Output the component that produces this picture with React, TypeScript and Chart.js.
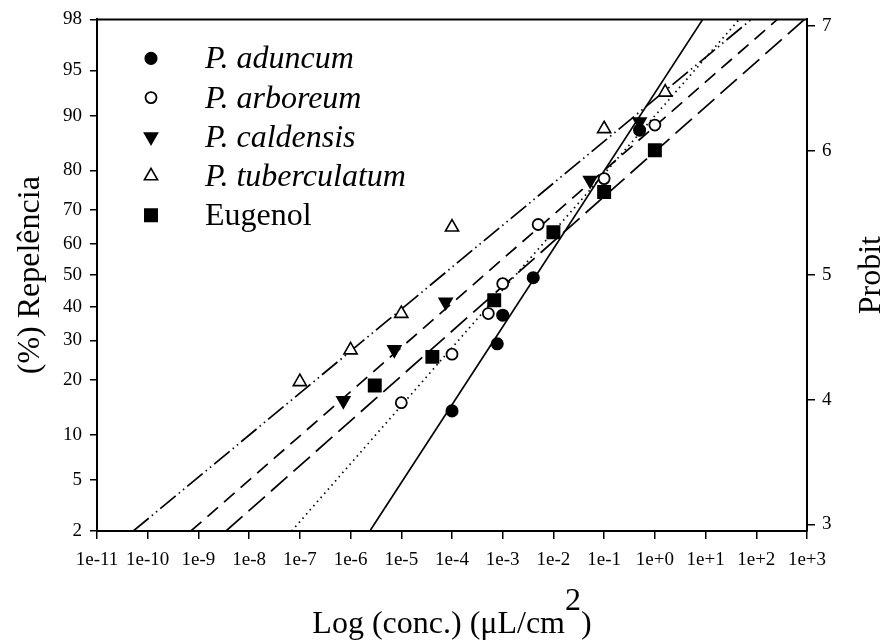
import React, { useEffect, useRef } from 'react';
import { Chart, registerables } from 'chart.js';

Chart.register(...registerables);

// ---------- data ----------
const SERIES_NAMES = ['P. aduncum', 'P. arboreum', 'P. caldensis', 'P. tuberculatum', 'Eugenol'];
const SERIES_ITALIC = [true, true, true, true, false];

const ADUNCUM_CONC = [1e-4, 7.8e-4, 1e-3, 4e-3, 0.5];
const ADUNCUM_PCT = [13.8, 29.1, 37.4, 49.2, 87.8];

const ARBOREUM_CONC = [1e-5, 1e-4, 5.2e-4, 1e-3, 5e-3, 0.1, 1];
const ARBOREUM_PCT = [15.3, 26.3, 37.9, 47.3, 65.8, 78.1, 88.6];

const CALDENSIS_CONC = [7.2e-7, 7.3e-6, 7.5e-5, 0.053, 0.5];
const CALDENSIS_PCT = [15.7, 27.5, 41.5, 77.7, 89.1];

const TUBERCULATUM_CONC = [1e-7, 1e-6, 1e-5, 1e-4, 0.1, 1.6];
const TUBERCULATUM_PCT = [19.6, 27.4, 37.9, 65.0, 88.0, 92.9];

const EUGENOL_CONC = [3e-6, 4.1e-5, 6.8e-4, 1e-2, 0.1, 1];
const EUGENOL_PCT = [18.8, 25.6, 42.0, 63.5, 74.8, 84.2];

// fitted probit lines: end points read where each line meets the frame
const LINE_START_CONC = [2.4e-6, 6.9e-8, 7.1e-10, 5.2e-11, 3.5e-9];
const LINE_START_PCT = [2, 2, 2, 2, 2];
const LINE_END_CONC = [8.8, 46, 260, 80, 890];
const LINE_END_PCT = [98, 98, 98, 98, 98];

const X_TICKS = [1e-11, 1e-10, 1e-9, 1e-8, 1e-7, 1e-6, 1e-5, 1e-4, 1e-3, 1e-2, 1e-1, 1e0, 1e1, 1e2, 1e3];
const X_TICK_LABELS = ['1e-11', '1e-10', '1e-9', '1e-8', '1e-7', '1e-6', '1e-5', '1e-4', '1e-3', '1e-2', '1e-1', '1e+0', '1e+1', '1e+2', '1e+3'];
const PCT_TICKS = [2, 5, 10, 20, 30, 40, 50, 60, 70, 80, 90, 95, 98];
const PROBIT_TICKS = [3, 4, 5, 6, 7];
const Y_RANGE_PCT = [2, 98];

const X_TITLE_MAIN = 'Log (conc.) (\u03bcL/cm';
const X_TITLE_SUP = '2';
const X_TITLE_END = ')';
const Y_TITLE = '(%) Repel\u00eancia';
const Y2_TITLE = 'Probit';

// ---------- probit transform (inverse normal, Acklam) ----------
function normInv(p: number): number {
  const a = [-3.969683028665376e1, 2.209460984245205e2, -2.759285104469687e2, 1.38357751867269e2, -3.066479806614716e1, 2.506628277459239];
  const b = [-5.447609879822406e1, 1.615858368580409e2, -1.556989798598866e2, 6.680131188771972e1, -1.328068155288572e1];
  const c = [-7.784894002430293e-3, -3.223964580411365e-1, -2.400758277161838, -2.549732539343734, 4.374664141464968, 2.938163982698783];
  const d = [7.784695709041462e-3, 3.224671290700398e-1, 2.445134137142996, 3.754408661907416];
  const plow = 0.02425;
  const phigh = 1 - plow;
  if (p < plow) {
    const q = Math.sqrt(-2 * Math.log(p));
    return (((((c[0] * q + c[1]) * q + c[2]) * q + c[3]) * q + c[4]) * q + c[5]) / ((((d[0] * q + d[1]) * q + d[2]) * q + d[3]) * q + 1);
  }
  if (p <= phigh) {
    const q = p - 0.5;
    const r = q * q;
    return ((((((a[0] * r + a[1]) * r + a[2]) * r + a[3]) * r + a[4]) * r + a[5]) * q) / (((((b[0] * r + b[1]) * r + b[2]) * r + b[3]) * r + b[4]) * r + 1);
  }
  const q = Math.sqrt(-2 * Math.log(1 - p));
  return -(((((c[0] * q + c[1]) * q + c[2]) * q + c[3]) * q + c[4]) * q + c[5]) / ((((d[0] * q + d[1]) * q + d[2]) * q + d[3]) * q + 1);
}
const probit = (pct: number) => 5 + normInv(pct / 100);

// ---------- styles ----------
const FONT = 'Liberation Serif';
const SERIES_CONC = [ADUNCUM_CONC, ARBOREUM_CONC, CALDENSIS_CONC, TUBERCULATUM_CONC, EUGENOL_CONC];
const SERIES_PCT = [ADUNCUM_PCT, ARBOREUM_PCT, CALDENSIS_PCT, TUBERCULATUM_PCT, EUGENOL_PCT];
const POINT_STYLE = ['circle', 'circle', 'triangle', 'triangle', 'rect'];
const POINT_ROTATION = [0, 0, 180, 0, 0];
const POINT_RADIUS = [5.8, 5.5, 7.6, 7.6, 8.8];
const POINT_FILL = ['#000', '#fff', '#000', '#fff', '#000'];
const POINT_BORDER = [1.5, 1.8, 1.5, 1.6, 1.5];
const LINE_DASH = [[], [1.5, 4], [14, 8], [20, 4, 1.5, 4, 1.5, 4], [22, 8]];

function drawMarker(ctx: CanvasRenderingContext2D, i: number, x: number, y: number) {
  const r = POINT_RADIUS[i];
  ctx.save();
  ctx.beginPath();
  const style = POINT_STYLE[i];
  if (style === 'circle') {
    ctx.arc(x, y, r, 0, Math.PI * 2);
  } else if (style === 'rect') {
    const s = r * Math.SQRT1_2;
    ctx.rect(x - s, y - s, 2 * s, 2 * s);
  } else {
    let rad = (POINT_ROTATION[i] * Math.PI) / 180;
    ctx.moveTo(x + Math.sin(rad) * r, y - Math.cos(rad) * r);
    rad += (2 * Math.PI) / 3;
    ctx.lineTo(x + Math.sin(rad) * r, y - Math.cos(rad) * r);
    rad += (2 * Math.PI) / 3;
    ctx.lineTo(x + Math.sin(rad) * r, y - Math.cos(rad) * r);
    ctx.closePath();
  }
  ctx.fillStyle = POINT_FILL[i];
  ctx.fill();
  ctx.lineWidth = POINT_BORDER[i];
  ctx.strokeStyle = '#000';
  ctx.stroke();
  ctx.restore();
}

const decorPlugin = {
  id: 'decor',
  afterDraw(chart: any) {
    const ctx: CanvasRenderingContext2D = chart.ctx;
    const area = chart.chartArea;
    ctx.save();
    // top frame line
    ctx.strokeStyle = '#000';
    ctx.lineWidth = 2;
    ctx.beginPath();
    ctx.moveTo(area.left - 1, area.top);
    ctx.lineTo(area.right + 1, area.top);
    ctx.stroke();

    // legend
    const rowStart = area.top + 39;
    const rowStep = 39.2;
    SERIES_NAMES.forEach((name, i) => {
      const y = rowStart + i * rowStep;
      drawMarker(ctx, i, area.left + 54, y);
      ctx.fillStyle = '#000';
      ctx.font = `${SERIES_ITALIC[i] ? 'italic ' : ''}32px "${FONT}"`;
      ctx.textAlign = 'left';
      ctx.textBaseline = 'alphabetic';
      ctx.fillText(name, area.left + 108, y + 10);
    });

    // axis titles
    const cy = (area.top + area.bottom) / 2;
    const cx = (area.left + area.right) / 2;
    ctx.font = `32px "${FONT}"`;
    ctx.fillStyle = '#000';
    ctx.textAlign = 'center';
    ctx.textBaseline = 'alphabetic';
    ctx.save();
    ctx.translate(39, cy);
    ctx.rotate(-Math.PI / 2);
    ctx.fillText(Y_TITLE, 0, 0);
    ctx.restore();
    ctx.save();
    ctx.translate(880, cy);
    ctx.rotate(-Math.PI / 2);
    ctx.fillText(Y2_TITLE, 0, 0);
    ctx.restore();

    ctx.textAlign = 'left';
    const w1 = ctx.measureText(X_TITLE_MAIN).width;
    const w2 = ctx.measureText(X_TITLE_SUP).width;
    const w3 = ctx.measureText(X_TITLE_END).width;
    let x0 = cx - (w1 + w2 + w3) / 2;
    const base = area.bottom + 102;
    ctx.fillText(X_TITLE_MAIN, x0, base);
    x0 += w1;
    ctx.fillText(X_TITLE_SUP, x0, base - 23);
    x0 += w2;
    ctx.fillText(X_TITLE_END, x0, base);
    ctx.restore();
  },
};

export default function App() {
  const ref = useRef<HTMLCanvasElement>(null);
  useEffect(() => {
    const canvas = ref.current;
    if (!canvas) return;
    const yMin = probit(Y_RANGE_PCT[0]);
    const yMax = probit(Y_RANGE_PCT[1]);

    const pointSets = SERIES_NAMES.map((name, i) => ({
      label: name,
      data: SERIES_CONC[i].map((c, j) => ({ x: c, y: probit(SERIES_PCT[i][j]) })),
      showLine: false,
      pointStyle: POINT_STYLE[i],
      rotation: POINT_ROTATION[i],
      pointRadius: POINT_RADIUS[i],
      pointBackgroundColor: POINT_FILL[i],
      pointBorderColor: '#000',
      pointBorderWidth: POINT_BORDER[i],
      order: 1,
    }));
    const lineSets = SERIES_NAMES.map((name, i) => ({
      label: name + ' fit',
      data: [
        { x: LINE_START_CONC[i], y: probit(LINE_START_PCT[i]) },
        { x: LINE_END_CONC[i], y: probit(LINE_END_PCT[i]) },
      ],
      showLine: true,
      pointRadius: 0,
      borderColor: '#000',
      borderWidth: 1.7,
      borderDash: LINE_DASH[i],
      borderCapStyle: 'butt',
      fill: false,
      order: 2,
    }));

    const tickFont = { family: FONT, size: 19 };
    const chart = new Chart(canvas, {
      type: 'scatter',
      data: { datasets: [...pointSets, ...lineSets] as any },
      options: {
        animation: false,
        responsive: true,
        maintainAspectRatio: false,
        layout: { padding: { top: 19, left: 0, right: 0, bottom: 0 } },
        plugins: { legend: { display: false }, tooltip: { enabled: false } },
        scales: {
          x: {
            type: 'logarithmic',
            min: X_TICKS[0],
            max: X_TICKS[X_TICKS.length - 1],
            afterBuildTicks: (s: any) => {
              s.ticks = X_TICKS.map((v) => ({ value: v }));
            },
            afterFit: (s: any) => {
              s.height = 110;
            },
            ticks: {
              autoSkip: false,
              maxRotation: 0,
              minRotation: 0,
              color: '#000',
              font: tickFont,
              padding: 10,
              callback: (_v: any, i: number) => X_TICK_LABELS[i],
            },
            grid: { drawOnChartArea: false, drawTicks: true, tickLength: 8, color: '#000', lineWidth: 1.5 },
            border: { display: true, color: '#000', width: 2 },
          },
          y: {
            type: 'linear',
            position: 'left',
            min: yMin,
            max: yMax,
            afterBuildTicks: (s: any) => {
              s.ticks = PCT_TICKS.map((p) => ({ value: probit(p) }));
            },
            afterFit: (s: any) => {
              s.width = 97;
            },
            ticks: {
              autoSkip: false,
              color: '#000',
              font: tickFont,
              padding: 8,
              callback: (_v: any, i: number) => String(PCT_TICKS[i]),
            },
            grid: { drawOnChartArea: false, drawTicks: true, tickLength: 7, color: '#000', lineWidth: 1.5 },
            border: { display: true, color: '#000', width: 2 },
          },
          y2: {
            type: 'linear',
            position: 'right',
            min: yMin,
            max: yMax,
            afterBuildTicks: (s: any) => {
              s.ticks = PROBIT_TICKS.map((v) => ({ value: v }));
            },
            afterFit: (s: any) => {
              s.width = 81;
            },
            ticks: {
              autoSkip: false,
              color: '#000',
              font: tickFont,
              padding: 7,
              callback: (_v: any, i: number) => String(PROBIT_TICKS[i]),
            },
            grid: { drawOnChartArea: false, drawTicks: true, tickLength: 8, color: '#000', lineWidth: 1.5 },
            border: { display: true, color: '#000', width: 2 },
          },
        },
      } as any,
      plugins: [decorPlugin],
    });
    return () => chart.destroy();
  }, []);

  return (
    <div style={{ position: 'absolute', left: 0, top: 0, width: 888, height: 641, background: '#fff' }}>
      <canvas ref={ref} />
    </div>
  );
}
